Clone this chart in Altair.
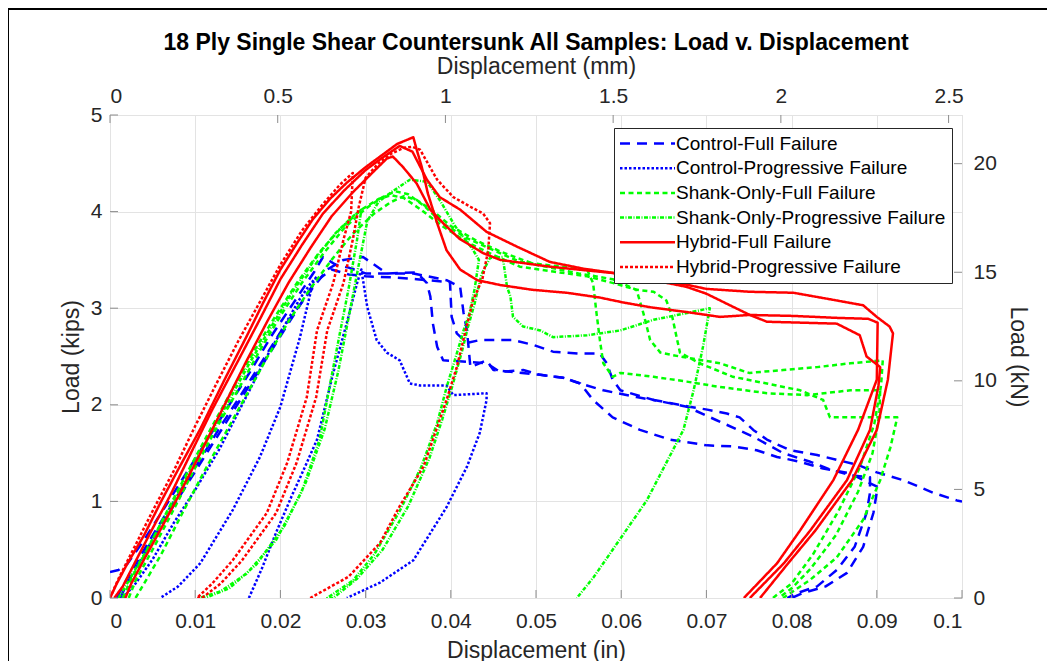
import altair as alt
import pandas as pd

FONT = "Liberation Sans"

# ---------------- data (displacement in inches, load in kips) ----------------
groups = ["Control-Full Failure", "Control-Progressive Failure",
          "Shank-Only-Full Failure", "Shank-Only-Progressive Failure",
          "Hybrid-Full Failure", "Hybrid-Progressive Failure"]
colors = ["#0000ff", "#0000ff", "#00ff00", "#00ff00", "#ff0000", "#ff0000"]
dashes = [[10, 7], [2.5, 2], [5, 3.5], [4, 1.5, 1, 1.5], [1, 0], [3, 2]]
widths = [2.5, 2.5, 1.1, 1.1, 2.5, 3.0]

# Control - full failure
cf1_x = [0, 0.001, 0.002, 0.004, 0.0065, 0.009, 0.0115, 0.014, 0.0165, 0.019, 0.0215, 0.024, 0.025, 0.0265, 0.028, 0.030, 0.0317, 0.0356, 0.0395, 0.0411, 0.0415, 0.0419, 0.0423, 0.0442, 0.045, 0.0473, 0.0505, 0.0532, 0.0552, 0.0579, 0.0618, 0.0657, 0.068, 0.0701, 0.0724, 0.0739, 0.0755, 0.0771, 0.0798, 0.083, 0.0853, 0.0877, 0.090, 0.0931, 0.0966, 0.0994, 0.1]
cf1_y = [0.27, 0.29, 0.35, 0.6, 0.95, 1.3, 1.65, 2.0, 2.35, 2.72, 3.05, 3.38, 3.53, 3.45, 3.42, 3.36, 3.36, 3.36, 3.29, 3.22, 2.95, 2.77, 2.39, 2.46, 2.36, 2.34, 2.31, 2.28, 2.22, 2.15, 2.08, 2.02, 1.98, 1.95, 1.91, 1.87, 1.74, 1.64, 1.53, 1.48, 1.43, 1.38, 1.30, 1.22, 1.09, 1.01, 1.0]
cf2_x = [0.0008, 0.0015, 0.003, 0.0055, 0.008, 0.0105, 0.013, 0.0155, 0.018, 0.0205, 0.023, 0.0255, 0.0274, 0.0297, 0.0325, 0.036, 0.0372, 0.0376, 0.0379, 0.0384, 0.0391, 0.041, 0.0442, 0.0458, 0.0485, 0.0505, 0.0532, 0.0552, 0.0567, 0.059, 0.0622, 0.0657, 0.0701, 0.0731, 0.0759, 0.0783, 0.081, 0.0837, 0.0869, 0.0884, 0.0901, 0.0896, 0.0884, 0.0865, 0.0840, 0.0813, 0.0800]
cf2_y = [0, 0.12, 0.35, 0.72, 1.07, 1.42, 1.78, 2.12, 2.47, 2.82, 3.12, 3.40, 3.50, 3.53, 3.36, 3.37, 3.26, 3.12, 2.84, 2.60, 2.46, 2.45, 2.43, 2.34, 2.36, 2.31, 2.28, 2.22, 2.05, 1.87, 1.74, 1.64, 1.58, 1.57, 1.53, 1.46, 1.41, 1.34, 1.29, 1.22, 1.15, 0.88, 0.53, 0.26, 0.12, 0.05, 0]
cf3_x = [0.0012, 0.002, 0.0035, 0.006, 0.0085, 0.011, 0.0135, 0.016, 0.0185, 0.021, 0.0235, 0.0245, 0.026, 0.028, 0.030, 0.033, 0.036, 0.0399, 0.0401, 0.0407, 0.0419, 0.0434, 0.0473, 0.0497, 0.052, 0.0552, 0.0575, 0.0583, 0.059, 0.0599, 0.0638, 0.0677, 0.0712, 0.0755, 0.079, 0.0822, 0.0845, 0.0870, 0.0892, 0.0892, 0.0888, 0.0874, 0.0853, 0.0830, 0.0806, 0.0795]
cf3_y = [0, 0.15, 0.38, 0.75, 1.1, 1.45, 1.8, 2.15, 2.5, 2.85, 3.2, 3.3, 3.4, 3.35, 3.33, 3.32, 3.30, 3.27, 2.91, 2.74, 2.64, 2.67, 2.67, 2.62, 2.55, 2.53, 2.53, 2.43, 2.26, 2.15, 2.05, 1.98, 1.84, 1.67, 1.50, 1.41, 1.33, 1.27, 1.25, 1.09, 0.88, 0.53, 0.29, 0.12, 0.05, 0]

# Control - progressive failure (load / unload cycles)
cpa_x = [0.0015, 0.003, 0.005, 0.0075, 0.010, 0.0129, 0.0155, 0.0184, 0.021, 0.0223, 0.0235, 0.0243,
         0.0238, 0.0223, 0.020, 0.0176, 0.0144, 0.0106, 0.0080, 0.0059]
cpa_y = [0, 0.15, 0.4, 0.78, 1.12, 1.55, 2.0, 2.5, 2.9, 3.1, 3.25, 3.33,
         3.26, 2.70, 1.98, 1.46, 0.91, 0.36, 0.12, 0]
cpb_x = [0.0163, 0.0178, 0.0196, 0.0213, 0.0231, 0.0243, 0.0262, 0.0278, 0.029, 0.0295,
         0.0302, 0.0313, 0.0325, 0.034, 0.0352, 0.0364, 0.0395, 0.0403, 0.0442,
         0.0442, 0.0434, 0.0419, 0.0395, 0.0356, 0.0317, 0.0278]
cpb_y = [0, 0.3, 0.70, 1.05, 1.40, 1.64, 2.33, 2.85, 3.26, 3.40,
         3.01, 2.67, 2.54, 2.46, 2.22, 2.20, 2.20, 2.10, 2.12,
         2.05, 1.71, 1.36, 0.94, 0.39, 0.16, 0]

# Shank-only - full failure
sf1_x = [0.0022, 0.003, 0.005, 0.0075, 0.010, 0.0125, 0.015, 0.0175, 0.020, 0.0225, 0.025, 0.0275, 0.030, 0.032, 0.0335, 0.035, 0.037, 0.039, 0.042, 0.045, 0.0481, 0.052, 0.056, 0.0567, 0.0571, 0.0575, 0.0579, 0.059, 0.0599, 0.0638, 0.0677, 0.0712, 0.0771, 0.0818, 0.0869, 0.0904, 0.0903, 0.0895, 0.0878, 0.0852, 0.0822, 0.080, 0.0785]
sf1_y = [0, 0.18, 0.5, 0.92, 1.35, 1.76, 2.15, 2.55, 2.92, 3.26, 3.56, 3.83, 4.03, 4.15, 4.21, 4.18, 4.05, 3.88, 3.72, 3.60, 3.48, 3.44, 3.40, 3.26, 2.95, 2.67, 2.43, 2.29, 2.33, 2.29, 2.24, 2.19, 2.12, 2.10, 2.15, 2.15, 1.9, 1.5, 1.1, 0.65, 0.3, 0.1, 0]
sf2_x = [0.0015, 0.0025, 0.0045, 0.007, 0.0095, 0.012, 0.0145, 0.017, 0.0195, 0.022, 0.0245, 0.027, 0.0295, 0.0315, 0.033, 0.0345, 0.0365, 0.039, 0.042, 0.045, 0.0481, 0.052, 0.056, 0.0595, 0.0618, 0.0638, 0.0653, 0.066, 0.0665, 0.0669, 0.0692, 0.0731, 0.0771, 0.081, 0.0837, 0.0845, 0.0869, 0.090, 0.0924, 0.0916, 0.0904, 0.0884, 0.0853, 0.0822, 0.079]
sf2_y = [0, 0.2, 0.52, 0.95, 1.37, 1.78, 2.18, 2.57, 2.93, 3.27, 3.57, 3.82, 4.02, 4.13, 4.17, 4.14, 4.02, 3.85, 3.68, 3.55, 3.43, 3.38, 3.33, 3.25, 3.19, 3.17, 3.08, 2.91, 2.70, 2.54, 2.43, 2.29, 2.22, 2.15, 2.05, 1.87, 1.87, 1.87, 1.87, 1.56, 1.22, 0.81, 0.42, 0.19, 0]
sf3_x = [0.003, 0.004, 0.006, 0.0085, 0.011, 0.0135, 0.016, 0.0185, 0.021, 0.0235, 0.026, 0.0285, 0.031, 0.033, 0.0345, 0.036, 0.038, 0.040, 0.043, 0.046, 0.050, 0.055, 0.059, 0.0618, 0.0626, 0.0634, 0.0646, 0.0669, 0.0716, 0.075, 0.079, 0.083, 0.0869, 0.0907, 0.0905, 0.0897, 0.0880, 0.0855, 0.0825, 0.080, 0.0778]
sf3_y = [0, 0.15, 0.45, 0.88, 1.3, 1.7, 2.1, 2.5, 2.87, 3.2, 3.5, 3.77, 3.98, 4.1, 4.16, 4.12, 4.0, 3.85, 3.7, 3.58, 3.45, 3.36, 3.30, 3.19, 2.95, 2.67, 2.54, 2.50, 2.43, 2.33, 2.36, 2.39, 2.43, 2.46, 2.2, 1.8, 1.35, 0.9, 0.45, 0.15, 0]

# Shank-only - progressive failure
sp_x = [0.001, 0.002, 0.004, 0.0065, 0.009, 0.0115, 0.014, 0.0165, 0.019, 0.0215, 0.024, 0.0265, 0.0285, 0.0295,
        0.0290, 0.0280, 0.0270, 0.0258, 0.0246, 0.0225, 0.0195, 0.016, 0.013, 0.0105,
        0.0112, 0.014, 0.0172, 0.0205, 0.023, 0.0252, 0.0268, 0.028, 0.0292, 0.0302, 0.0315, 0.033, 0.0352, 0.0372, 0.0387, 0.0405, 0.0425, 0.0433,
        0.0428, 0.0422, 0.0415, 0.0407, 0.0395, 0.0384, 0.0365, 0.034, 0.031, 0.0285, 0.0255,
        0.0262, 0.029, 0.032, 0.035, 0.0375, 0.039, 0.0402, 0.0413, 0.042, 0.0428, 0.0436, 0.0446, 0.0461,
        0.0466, 0.047, 0.0473, 0.0485, 0.0505, 0.052, 0.056, 0.0599, 0.0638, 0.0677, 0.0704,
        0.0700, 0.0696, 0.0685, 0.0673, 0.065, 0.063, 0.059, 0.0568, 0.0548]
sp_y = [0, 0.15, 0.45, 0.85, 1.25, 1.65, 2.05, 2.45, 2.82, 3.18, 3.5, 3.78, 3.95, 4.02,
        3.71, 3.2, 2.75, 2.2, 1.64, 1.1, 0.6, 0.25, 0.07, 0,
        0, 0.1, 0.35, 0.75, 1.2, 1.75, 2.35, 2.9, 3.45, 3.9, 4.1, 4.2, 4.33, 4.31, 4.12, 3.85, 3.62, 3.5,
        3.2, 2.95, 2.77, 2.53, 2.18, 1.81, 1.35, 0.9, 0.45, 0.18, 0,
        0, 0.2, 0.5, 0.95, 1.45, 1.85, 2.2, 2.55, 2.8, 3.05, 3.35, 3.52, 3.53,
        3.22, 3.12, 2.91, 2.81, 2.77, 2.70, 2.72, 2.77, 2.88, 2.95, 3.00,
        2.80, 2.60, 2.15, 1.74, 1.35, 1.01, 0.5, 0.22, 0]

# Hybrid - full failure
hfa_x = [0, 0.0008, 0.002, 0.004, 0.006, 0.008, 0.0106, 0.0135, 0.0161, 0.018, 0.020, 0.022, 0.0238, 0.0258, 0.0278, 0.030, 0.0317, 0.0337, 0.0356, 0.036, 0.0366, 0.0373, 0.0384, 0.0395, 0.0411, 0.0431, 0.0458, 0.0496, 0.0536, 0.0575, 0.0602, 0.0634, 0.0677, 0.0716, 0.0751, 0.0802, 0.0853, 0.0890, 0.0901, 0.0900, 0.0878, 0.0849, 0.0810, 0.0783, 0.0744]
hfa_y = [0, 0.15, 0.35, 0.65, 1.0, 1.33, 1.75, 2.27, 2.72, 3.06, 3.40, 3.68, 3.92, 4.13, 4.30, 4.46, 4.57, 4.70, 4.77, 4.64, 4.46, 4.19, 3.88, 3.60, 3.40, 3.29, 3.24, 3.19, 3.16, 3.11, 3.06, 3.01, 2.96, 2.91, 2.93, 2.92, 2.90, 2.89, 2.85, 2.26, 1.74, 1.22, 0.70, 0.36, 0]
hfb_x = [0.0018, 0.0025, 0.004, 0.006, 0.008, 0.0105, 0.013, 0.016, 0.0185, 0.021, 0.0235, 0.026, 0.0285, 0.031, 0.0325, 0.0332, 0.0344, 0.036, 0.0376, 0.0391, 0.041, 0.0438, 0.0458, 0.0516, 0.0595, 0.0638, 0.0677, 0.0700, 0.0730, 0.0751, 0.0771, 0.0853, 0.0880, 0.0888, 0.0904, 0.0902, 0.0892, 0.0865, 0.0822, 0.0791, 0.0751]
hfb_y = [0, 0.15, 0.40, 0.72, 1.05, 1.48, 1.92, 2.45, 2.87, 3.27, 3.62, 3.95, 4.20, 4.42, 4.55, 4.57, 4.46, 4.29, 4.02, 3.88, 3.72, 3.57, 3.50, 3.43, 3.36, 3.29, 3.22, 3.15, 3.02, 2.93, 2.86, 2.84, 2.72, 2.50, 2.39, 2.2, 1.74, 1.22, 0.70, 0.36, 0]
hfc_x = [0.0005, 0.0015, 0.003, 0.005, 0.007, 0.0095, 0.012, 0.015, 0.0175, 0.020, 0.0225, 0.025, 0.0275, 0.030, 0.032, 0.034, 0.0355, 0.0372, 0.0387, 0.0411, 0.0442, 0.0477, 0.0516, 0.0555, 0.0595, 0.0634, 0.0673, 0.0700, 0.0751, 0.0802, 0.0853, 0.0884, 0.0900, 0.0915, 0.0919, 0.0916, 0.0913, 0.0900, 0.0871, 0.0828, 0.0796, 0.0763]
hfc_y = [0, 0.12, 0.38, 0.72, 1.05, 1.50, 1.95, 2.45, 2.87, 3.30, 3.65, 3.98, 4.22, 4.43, 4.56, 4.68, 4.62, 4.33, 4.15, 4.02, 3.79, 3.64, 3.48, 3.41, 3.36, 3.29, 3.25, 3.20, 3.17, 3.16, 3.08, 3.03, 2.91, 2.81, 2.74, 2.5, 2.26, 1.74, 1.22, 0.70, 0.36, 0]

# Hybrid - progressive failure
hp_x = [0, 0.001, 0.003, 0.005, 0.0075, 0.010, 0.0125, 0.015, 0.0175, 0.020, 0.0225, 0.025, 0.027, 0.0285,
        0.0283, 0.0274, 0.0262, 0.0243, 0.0231, 0.0208, 0.0184, 0.0144, 0.0120, 0.0102,
        0.0108, 0.0130, 0.0155, 0.0195, 0.0219, 0.0242, 0.0255, 0.0274, 0.0285, 0.0292, 0.0300, 0.0315, 0.033, 0.0345, 0.0355,
        0.0364, 0.0384, 0.0403, 0.0423, 0.0438, 0.0446,
        0.0444, 0.0437, 0.0426, 0.0407, 0.0395, 0.0368, 0.034, 0.0317, 0.028, 0.0235]
hp_y = [0, 0.2, 0.55, 0.9, 1.32, 1.78, 2.22, 2.65, 3.05, 3.45, 3.80, 4.08, 4.28, 4.40,
        4.0, 3.71, 3.26, 2.77, 2.08, 1.40, 0.88, 0.39, 0.15, 0,
        0, 0.15, 0.39, 0.88, 1.40, 2.08, 2.77, 3.26, 3.71, 4.05, 4.35, 4.50, 4.60, 4.66, 4.67,
        4.64, 4.33, 4.15, 4.05, 3.98, 3.88,
        3.60, 3.30, 3.08, 2.39, 2.05, 1.36, 0.95, 0.57, 0.22, 0]

samples = [
    ("Control-Full Failure", "CF1", cf1_x, cf1_y),
    ("Control-Full Failure", "CF2", cf2_x, cf2_y),
    ("Control-Full Failure", "CF3", cf3_x, cf3_y),
    ("Control-Progressive Failure", "CPA", cpa_x, cpa_y),
    ("Control-Progressive Failure", "CPB", cpb_x, cpb_y),
    ("Shank-Only-Full Failure", "SF1", sf1_x, sf1_y),
    ("Shank-Only-Full Failure", "SF2", sf2_x, sf2_y),
    ("Shank-Only-Full Failure", "SF3", sf3_x, sf3_y),
    ("Shank-Only-Progressive Failure", "SP1", sp_x, sp_y),
    ("Hybrid-Full Failure", "HFA", hfa_x, hfa_y),
    ("Hybrid-Full Failure", "HFB", hfb_x, hfb_y),
    ("Hybrid-Full Failure", "HFC", hfc_x, hfc_y),
    ("Hybrid-Progressive Failure", "HP1", hp_x, hp_y),
]

in_ticks = [0, 0.01, 0.02, 0.03, 0.04, 0.05, 0.06, 0.07, 0.08, 0.09, 0.1]
kip_ticks = [0, 1, 2, 3, 4, 5]
mm_ticks = [0, 0.5, 1, 1.5, 2, 2.5]
kn_ticks = [0, 5, 10, 15, 20]
MM_MAX = 2.54          # 0.1 in
KN_MAX = 5 * 4.44822   # 5 kips

rows = []
for g, s, xs, ys in samples:
    for i, (xv, yv) in enumerate(zip(xs, ys)):
        rows.append({"group": g, "sample": s, "i": i, "x": xv, "y": yv})
df = pd.DataFrame(rows)

W, H = 852, 483
AX = "#8c8c8c"
TXT = "#262626"
TICK_FS = 21
LAB_FS = 23

legend = alt.Legend(title=None, orient="none", legendX=504, legendY=13,
                    symbolType="M-5,0L5,0", symbolSize=121, symbolOffset=18,
                    labelOffset=19, padding=6, rowPadding=4.7, labelLimit=600,
                    fillColor="white", strokeColor="#262626",
                    labelFont=FONT, labelFontSize=19, labelColor="black")

x_in = alt.Scale(domain=[0, 0.1], nice=False, zero=False)
y_kip = alt.Scale(domain=[0, 5], nice=False, zero=False)
x_mm = alt.Scale(domain=[0, MM_MAX], nice=False, zero=False)
y_kn = alt.Scale(domain=[0, KN_MAX], nice=False, zero=False)

axis_common = dict(labelFont=FONT, labelFontSize=TICK_FS, labelColor=TXT,
                   titleFont=FONT, titleFontSize=LAB_FS, titleFontWeight="normal",
                   titleColor=TXT, tickSize=0, domain=False, format="~g")

lines = alt.Chart(df).mark_line(clip=True, strokeJoin="round").encode(
    x=alt.X("x:Q", scale=x_in,
            axis=alt.Axis(orient="bottom", values=in_ticks, title="Displacement (in)",
                          grid=True, gridColor="#e3e3e3", labelPadding=12, titlePadding=8,
                          **axis_common)),
    y=alt.Y("y:Q", scale=y_kip,
            axis=alt.Axis(orient="left", values=kip_ticks, title="Load (kips)",
                          grid=True, gridColor="#e3e3e3", labelPadding=8, titlePadding=7,
                          **axis_common)),
    color=alt.Color("group:N", sort=groups, scale=alt.Scale(domain=groups, range=colors), legend=legend),
    strokeDash=alt.StrokeDash("group:N", sort=groups, scale=alt.Scale(domain=groups, range=dashes), legend=legend),
    strokeWidth=alt.StrokeWidth("group:N", sort=groups, scale=alt.Scale(domain=groups, range=widths), legend=legend),
    detail="sample:N",
    order="i:Q",
)

sec = pd.DataFrame({"mm": [0, MM_MAX], "kN": [0, KN_MAX]})
secondary = alt.Chart(sec).mark_point(opacity=0).encode(
    x=alt.X("mm:Q", scale=x_mm,
            axis=alt.Axis(orient="top", values=mm_ticks, title="Displacement (mm)",
                          grid=False, labelPadding=8.5, titlePadding=7, **axis_common)),
    y=alt.Y("kN:Q", scale=y_kn,
            axis=alt.Axis(orient="right", values=kn_ticks, title="Load (kN)",
                          grid=False, labelPadding=11, titlePadding=9, **axis_common)),
)

# inward tick marks (MATLAB style)
tb = alt.Chart(pd.DataFrame({"t": in_ticks})).mark_rule(color=AX).encode(
    x=alt.X("t:Q", scale=x_in, axis=None), y=alt.value(H), y2=alt.value(H - 8))
tt = alt.Chart(pd.DataFrame({"t": mm_ticks})).mark_rule(color=AX).encode(
    x=alt.X("t:Q", scale=x_mm, axis=None), y=alt.value(0), y2=alt.value(8))
tl = alt.Chart(pd.DataFrame({"t": kip_ticks})).mark_rule(color=AX).encode(
    y=alt.Y("t:Q", scale=y_kip, axis=None), x=alt.value(0), x2=alt.value(8))
tr = alt.Chart(pd.DataFrame({"t": kn_ticks})).mark_rule(color=AX).encode(
    y=alt.Y("t:Q", scale=y_kn, axis=None), x=alt.value(W), x2=alt.value(W - 8))

# outer figure border (top and left edges)
one = pd.DataFrame({"a": [0]})
border_top = alt.Chart(one).mark_rule(color="black", strokeWidth=2).encode(
    x=alt.value(-102), x2=alt.value(950), y=alt.value(-106))
border_left = alt.Chart(one).mark_rule(color="black", strokeWidth=2).encode(
    x=alt.value(-102), y=alt.value(-106), y2=alt.value(560))

chart = alt.layer(border_top, border_left, secondary, lines, tb, tt, tl, tr).resolve_scale(
    x="independent", y="independent"
).properties(
    width=W, height=H,
    padding={"left": 102, "top": 107, "right": 85, "bottom": 63},
    autosize=alt.AutoSizeParams(type="none"),
    title=alt.TitleParams("18 Ply Single Shear Countersunk All Samples: Load v. Displacement",
                          font=FONT, fontSize=23, fontWeight="bold", color="black",
                          anchor="middle", frame="group", offset=-46.5),
).configure_view(stroke=AX, strokeWidth=1).configure(background="white")

chart.save("out.html", embed_options={"renderer": "svg", "actions": False})
